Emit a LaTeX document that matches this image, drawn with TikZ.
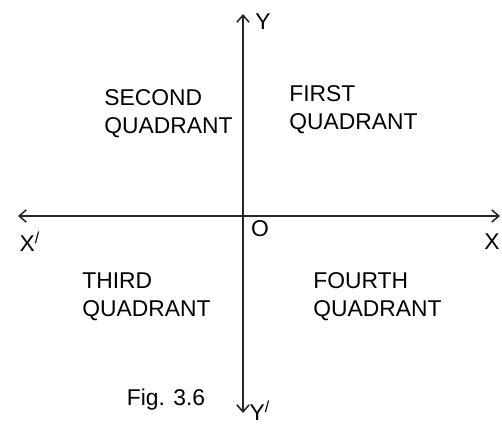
\documentclass[tikz,border=0pt]{standalone}
\usepackage{fontspec}
\setmainfont{Liberation Sans}
\usetikzlibrary{arrows.meta}
\begin{document}
\begin{tikzpicture}[
        x=0.02cm, y=-0.02cm,
        every node/.style={font=\fontsize{13}{16}\selectfont},
        quadlabel/.style={align=left, anchor=north west, inner sep=0pt},
        axislabel/.style={inner sep=0pt},
        axis/.style={{Straight Barb[length=4pt,width=7pt]}-{Straight Barb[length=4pt,width=7pt]}, line width=0.9pt, draw=black!85}
        ]
        \useasboundingbox (0,0) rectangle (502,425);

        \coordinate (xl) at (18,216);
        \coordinate (xr) at (500,216);
        \coordinate (yt) at (243,14);
        \coordinate (yb) at (243,413);

        \draw[axis] (xl) -- (xr);
        \draw[axis] (yb) -- (yt);

        \node[axislabel] (ylab) at (263,22) {Y};
        \node[axislabel] (yplab) at (260,411) {Y\textsuperscript{/}};
        \node[axislabel] (xlab) at (492,242) {X};
        \node[axislabel] (xplab) at (30,242) {X\textsuperscript{/}};
        \node[axislabel] (origin) at (260,229) {O};

        \node[quadlabel] (first) at (289,85) {FIRST\\QUADRANT};
        \node[quadlabel] (second) at (104,89) {SECOND\\QUADRANT};
        \node[quadlabel] (third) at (82,272) {THIRD\\QUADRANT};
        \node[quadlabel] (fourth) at (313,272) {FOURTH\\QUADRANT};

        \node[axislabel] (caption) at (166,400) {Fig. 3.6};
    \end{tikzpicture}
\end{document}
